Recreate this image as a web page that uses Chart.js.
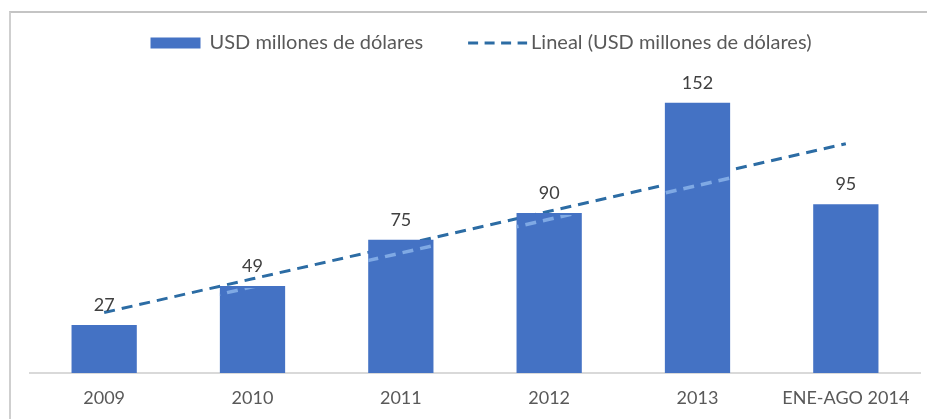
<!DOCTYPE html>
<html>
<head>
<meta charset="utf-8">
<script src="https://cdn.jsdelivr.net/npm/chart.js@4.4.1/dist/chart.umd.min.js"></script>
<style>
  body { margin: 0; background: #fff; }
  #wrap { position: relative; width: 927px; height: 419px; }
  #frame {
    position: absolute; left: 9px; top: 11px; right: 0; bottom: 0;
    border-top: 2px solid #c4c4c4; border-left: 2px solid #cfcfcf;
    pointer-events: none;
  }
</style>
</head>
<body>
<div id="wrap">
  <canvas id="exportChart" width="927" height="419"></canvas>
  <div id="frame"></div>
</div>
<script>
// Exportaciones anuales, millones de USD
const years = ["2009", "2010", "2011", "2012", "2013", "ENE-AGO 2014"];
const usdMillones = [27, 49, 75, 90, 152, 95];
const tendencia = [34, 53, 72, 91, 110, 129];

const barColor = "#4472C4";
const trendColor = "#2C6CA4";
const trendOnBar = "#7FA9E4";
const trendDash = [11, 7];
const FONT = "Lato";

// valores encima de cada barra
const valueLabels = {
  id: "valueLabels",
  afterDatasetsDraw(chart) {
    const ctx = chart.ctx;
    const meta = chart.getDatasetMeta(0);
    ctx.save();
    ctx.font = "18px " + FONT;
    ctx.fillStyle = "#404040";
    ctx.textAlign = "center";
    ctx.textBaseline = "middle";
    meta.data.forEach((bar, i) => {
      ctx.fillText(String(usdMillones[i]), bar.x, bar.y - 20);
    });
    ctx.restore();
  }
};

// la recta pasa detrás de las barras; dentro de ellas queda un reflejo claro
const trendOverBars = {
  id: "trendOverBars",
  afterDatasetsDraw(chart) {
    const ctx = chart.ctx;
    const bars = chart.getDatasetMeta(0).data;
    const pts = chart.getDatasetMeta(1).data;
    ctx.save();
    ctx.beginPath();
    bars.forEach(b => {
      const w = b.width;
      ctx.rect(b.x - w / 2, b.y + 2, w, b.base - b.y - 2);
    });
    ctx.clip();
    ctx.translate(0, 8);
    ctx.strokeStyle = trendOnBar;
    ctx.lineWidth = 3.5;
    ctx.setLineDash(trendDash);
    ctx.beginPath();
    pts.forEach((p, i) => i ? ctx.lineTo(p.x, p.y) : ctx.moveTo(p.x, p.y));
    ctx.stroke();
    ctx.restore();
  }
};

// leyenda arriba: bloque azul y recta punteada
const topLegend = {
  id: "topLegend",
  afterDraw(chart) {
    const ctx = chart.ctx;
    const ds = chart.data.datasets;
    const y = 43;
    ctx.save();
    ctx.font = "20px " + FONT;
    const w1 = ctx.measureText(ds[0].label).width;
    const w2 = ctx.measureText(ds[1].label).width;
    const total = 50 + 9 + w1 + 45 + 59 + 4 + w2;
    let x = 481 - total / 2;
    ctx.fillStyle = barColor;
    ctx.fillRect(x, y - 5.5, 50, 11);
    x += 59;
    ctx.fillStyle = "#595959";
    ctx.textBaseline = "middle";
    ctx.fillText(ds[0].label, x, y);
    x += w1 + 45;
    ctx.strokeStyle = trendColor;
    ctx.lineWidth = 3;
    ctx.setLineDash([10, 6.5]);
    ctx.beginPath();
    ctx.moveTo(x, y);
    ctx.lineTo(x + 59, y);
    ctx.stroke();
    x += 63;
    ctx.fillText(ds[1].label, x, y);
    ctx.restore();
  }
};

const ctx = document.getElementById("exportChart").getContext("2d");
new Chart(ctx, {
  data: {
    labels: years,
    datasets: [
      {
        type: "bar",
        label: "USD millones de dólares",
        data: usdMillones,
        backgroundColor: barColor,
        borderWidth: 0,
        barPercentage: 0.44,
        categoryPercentage: 1,
        order: 1,
      },
      {
        type: "line",
        label: "Lineal (USD millones de dólares)",
        data: tendencia,
        borderColor: trendColor,
        backgroundColor: trendColor,
        borderWidth: 3,
        borderDash: trendDash,
        pointRadius: 0,
        fill: false,
        tension: 0,
        order: 2,
      },
    ],
  },
  options: {
    responsive: false,
    animation: false,
    layout: { padding: { top: 62, left: 30, right: 7, bottom: 3 } },
    plugins: {
      tooltip: { enabled: false },
      legend: { display: false },
    },
    scales: {
      x: {
        grid: { display: false, drawTicks: false },
        border: { display: true, color: "#d9d9d9", width: 2 },
        ticks: {
          color: "#595959",
          padding: 14,
          font: { family: FONT, size: 18 },
          maxRotation: 0,
        },
        afterFit(scale) {
          scale.height = 43;
        },
      },
      y: {
        display: false,
        min: 0,
        max: 175,
      },
    },
  },
  plugins: [valueLabels, trendOverBars, topLegend],
});
</script>
</body>
</html>
